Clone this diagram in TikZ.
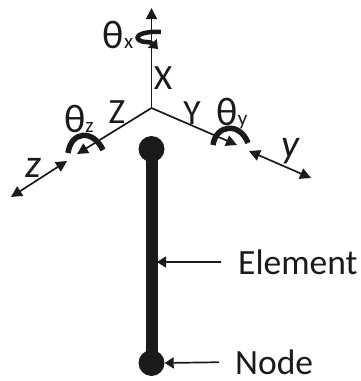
\documentclass[tikz,border=0pt]{standalone}
\usepackage{fontspec}
\setmainfont{Carlito}
\definecolor{inkblack}{HTML}{1A1A1A}
\usetikzlibrary{arrows.meta}
\newcommand{\lblfont}{\fontsize{35.5}{36}\selectfont}
\newcommand{\thfont}{\fontsize{40}{40}\selectfont}
\newcommand{\subfont}{\fontsize{21}{21}\selectfont}

\begin{document}
\begin{tikzpicture}[x=1pt,y=-1pt,inkblack,
                    axis/.style={line width=1.7pt,-{Triangle[length=11pt,width=11pt]}},
                    twoway/.style={line width=1.7pt,{Triangle[length=11pt,width=11pt]}-{Triangle[length=11pt,width=11pt]}},
                    pointer/.style={line width=1.7pt,-{Triangle[length=9pt,width=11pt]}},
                    spin/.style={line width=4.5pt,-{Triangle[length=8pt,width=12pt]}},
                    joint/.style={circle,fill=inkblack,inner sep=0pt,minimum size=26pt},
                    lbl/.style={inner sep=0pt,font=\lblfont},
                    thlbl/.style={inner sep=0pt,font=\thfont}]
    \useasboundingbox (0,0) rectangle (360,381);

    % axes
    \coordinate (o) at (151.5,108);
    \coordinate (xtip) at (151.5,8);
    \coordinate (ytip) at (237,145);
    \coordinate (ztip) at (77,154);
    \draw[axis] (o) -- (xtip);
    \draw[axis] (o) -- (ytip);
    \draw[axis] (o) -- (ztip);

    % element with its two nodes
    \node[joint] (top) at (151.5,149) {};
    \node[joint] (bot) at (151.5,363) {};
    \draw[line width=12pt] (top.center) -- (bot.center);

    % displacement arrows
    \coordinate (za) at (11,197);
    \coordinate (zb) at (67,161);
    \coordinate (ya) at (249,151);
    \coordinate (yb) at (311,178);
    \draw[twoway] (za) -- (zb);
    \draw[twoway] (ya) -- (yb);

    % rotations
    \coordinate (rxa) at (161,32);
    \coordinate (rxb) at (158,49);
    \coordinate (rza) at (68,153);
    \coordinate (rzb) at (103,150);
    \coordinate (rya) at (213,145);
    \coordinate (ryb) at (248,143);
    \draw[spin] (rxa) .. controls (142,31) and (134,36) .. (139,40) .. controls (142,43) and (150,41) .. (rxb);
    \draw[line width=5.5pt] (rza) .. controls (71,131) and (93,129) .. (rzb);
    \draw[line width=5.5pt] (rya) .. controls (216,124) and (240,122) .. (ryb);

    % labels
    \node[thlbl] (thx) at (118,35) {θ{\subfont x}};
    \node[thlbl] (thz) at (79,119) {θ{\subfont z}};
    \node[thlbl] (thy) at (232,114) {θ{\subfont y}};
    \node[lbl] (xlab) at (163,78) {X};
    \node[lbl] (zlab) at (117,112) {Z};
    \node[lbl] (ylab) at (192,113) {Y};
    \node[lbl,font=\fontsize{40}{40}\selectfont\itshape] (zdisp) at (33,168) {z};
    \node[lbl,font=\fontsize{40}{40}\selectfont\itshape] (ydisp) at (290,151) {y};
    \node[lbl,anchor=west] (element) at (238,262) {Element};
    \node[lbl,anchor=west] (node) at (235,362) {Node};

    \draw[pointer,shorten <=17pt] (element.west) -- (157,262);
    \draw[pointer,shorten <=16pt] (node.west) -- (bot.east);
\end{tikzpicture}
\end{document}
